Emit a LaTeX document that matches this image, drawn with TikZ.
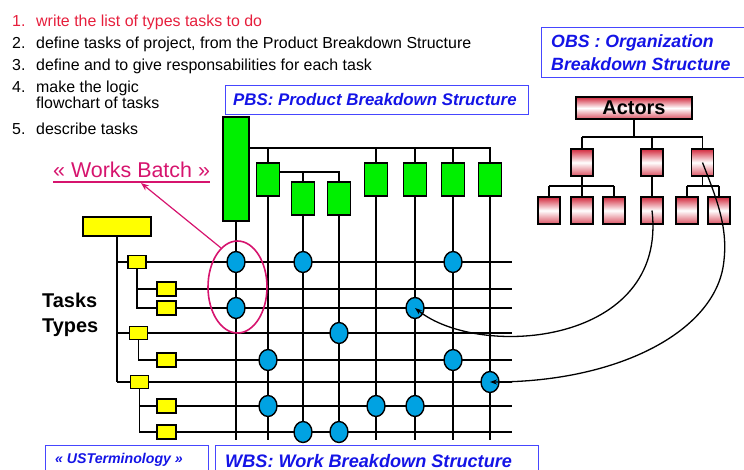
\documentclass[tikz,border=0pt]{standalone}
\usepackage{fontspec}
\setmainfont{Liberation Sans}
\usetikzlibrary{arrows.meta,shapes.geometric,calc}
\definecolor{pgreen}{RGB}{0,240,0}
\definecolor{pyellow}{RGB}{255,255,0}
\definecolor{pcyan}{RGB}{0,162,226}
\definecolor{pmag}{RGB}{214,20,110}
\definecolor{pred}{RGB}{230,30,60}
\definecolor{pblue}{RGB}{20,20,230}
\definecolor{pframe}{RGB}{70,70,255}
\definecolor{actred}{RGB}{210,40,60}
\tikzset{
 ln/.style={line width=1.6bp, black},
 gbox/.style={draw, line width=1.4bp, fill=pgreen, inner sep=0, minimum width=23bp, minimum height=33bp},
 ybox/.style={draw, line width=1.2bp, fill=pyellow, inner sep=0, minimum width=18bp, minimum height=13bp},
 ybox2/.style={ybox, minimum width=19bp, minimum height=14bp},
 wdot/.style={ellipse, draw, line width=1.4bp, fill=pcyan, inner sep=0, minimum width=18bp, minimum height=21bp},
 abox/.style={draw, line width=1.4bp, inner sep=0, minimum width=22bp, minimum height=27bp, top color=actred, bottom color=actred!80, middle color=white},
 lbox/.style={draw=pframe, line width=0.9bp, inner sep=0, anchor=north west},
 ltxt/.style={anchor=base west, inner sep=0, text=pblue},
 txt/.style={anchor=base west, inner sep=0, font=\fontsize{16}{18}\selectfont},
 curv/.style={line width=1.3bp, -{Stealth[length=7bp,width=5bp]}},
}
\begin{document}
\begin{tikzpicture}[x=1bp,y=-1bp]
\useasboundingbox (0,0) rectangle (744,470);
% --- list
\node[txt, text=pred] (n1) at (12,27) {1.};
\node[txt, text=pred] (t1) at (36,27) {write the list of types tasks to do};
\node[txt] (n2) at (12,49) {2.};
\node[txt] (t2) at (36,49) {define tasks of project, from the Product Breakdown Structure};
\node[txt] (n3) at (12,71) {3.};
\node[txt] (t3) at (36,71) {define and to give responsabilities for each task};
\node[txt] (n4) at (12,93) {4.};
\node[txt] (t4) at (36,93) {make the logic};
\node[txt] (t4b) at (36,109) {flowchart of tasks};
\node[txt] (n5) at (12,135) {5.};
\node[txt] (t5) at (36,135) {describe tasks};
% --- label boxes
\node[lbox, minimum width=303bp, minimum height=29bp] (pbs) at (225,85) {};
\node[ltxt, font=\fontsize{16.9}{18}\bfseries\itshape] (pbst) at (233,106) {PBS: Product Breakdown Structure};
\node[lbox, minimum width=203bp, minimum height=50bp] (obs) at (541,27) {};
\node[ltxt, font=\fontsize{17.8}{19}\bfseries\itshape] (obst1) at (551,48) {OBS : Organization};
\node[ltxt, font=\fontsize{17.8}{19}\bfseries\itshape] (obst2) at (551,71) {Breakdown Structure};
\node[lbox, minimum width=163bp, minimum height=30bp] (ust) at (45,445) {};
\node[ltxt, font=\fontsize{14.2}{16}\bfseries\itshape] (ustt) at (55,463) {« USTerminology »};
\node[lbox, minimum width=323bp, minimum height=30bp] (wbs) at (215,445) {};
\node[ltxt, font=\fontsize{18.2}{20}\bfseries\itshape] (wbst) at (225,467) {WBS: Work Breakdown Structure};
% --- Tasks Types
\node[anchor=base west, inner sep=0, font=\fontsize{20}{22}\bfseries] (tt1) at (42,308) {Tasks};
\node[anchor=base west, inner sep=0, font=\fontsize{20}{22}\bfseries] (tt2) at (42,333) {Types};
% --- grid coordinates
\foreach \j/\x in {1/236,2/268,3/303,4/339,5/376,6/415,7/453,8/490} \coordinate (c\j) at (\x,0);
\foreach \i/\y in {1/262,2/289,3/308,4/333,5/360,6/382,7/406,8/432} \coordinate (r\i) at (0,\y);
\coordinate (rend) at (512,0);
\coordinate (vend) at (0,440);
\coordinate (tb) at (0,148);
\coordinate (sb) at (0,172);
% --- PBS green boxes
\node[gbox, minimum width=26bp, minimum height=104bp] (gc1) at (236,169) {};
\foreach \j in {2,5,6,7,8} \node[gbox] (gc\j) at ($(c\j)+(0,179.5)$) {};
\foreach \j in {3,4} \node[gbox] (gc\j) at ($(c\j)+(0,198.5)$) {};
\draw[ln] (gc1.east |- tb) -- (gc8.north |- tb) -- (gc8.north);
\foreach \j in {2,5,6,7} \draw[ln] (gc\j.north |- tb) -- (gc\j.north);
\draw[ln] (gc2.east |- sb) -- (gc4.north |- sb) -- (gc4.north);
\draw[ln] (gc3.north |- sb) -- (gc3.north);
% --- yellow task types
\node[ybox, minimum width=68bp, minimum height=19bp] (y0) at (117,226.5) {};
\node[ybox] (yb1) at (137,262) {};
\node[ybox2] (yb2) at (166.5,289) {};
\node[ybox2] (yb3) at (166.5,308) {};
\node[ybox] (yb4) at (138.5,333) {};
\node[ybox2] (yb5) at (166.5,360) {};
\node[ybox] (yb6) at (139.5,382) {};
\node[ybox2] (yb7) at (166.5,406) {};
\node[ybox2] (yb8) at (166.5,432) {};
\draw[ln] (y0.south) -- (y0.south |- yb6);
\foreach \i in {1,4,6} \draw[ln] (y0.south |- yb\i) -- (yb\i.west);
\draw[ln] (yb1.south) |- (yb3.west);
\draw[ln] (yb1.south |- yb2) -- (yb2.west);
\draw[ln] (yb4.south) |- (yb5.west);
\draw[ln] (yb6.south) |- (yb8.west);
\draw[ln] (yb6.south |- yb7) -- (yb7.west);
% --- grid lines
\foreach \i in {1,...,8} \draw[ln] (yb\i.east) -- (yb\i.east -| rend);
\foreach \j in {1,...,8} \draw[ln] (gc\j.south) -- (gc\j.south |- vend);
% --- works dots
\foreach \r/\c in {1/1,1/3,1/7,3/1,3/6,4/4,5/2,5/7,6/8,7/2,7/5,7/6,8/3,8/4}
  \node[wdot] (d\r\c) at (c\c |- r\r) {};
% --- works batch
\node[ellipse, draw=pmag, line width=1.6bp, minimum width=59bp, minimum height=92bp, inner sep=0] (wbe) at (237.5,287) {};
\node[anchor=base west, inner sep=0, text=pmag, font=\fontsize{21.5}{24}\selectfont] (wbl) at (53,178) {« Works Batch »};
\draw[pmag, line width=1.2bp] ($(wbl.base west)+(0,4)$) -- ($(wbl.base east)+(0,4)$);
\draw[pmag, line width=1.2bp, -{Stealth[length=8bp,width=6bp]}] (wbe.113) -- ($(wbl.base west)!0.56!(wbl.base east)+(0,5)$);
% --- OBS
\node[abox, minimum width=116bp, minimum height=22bp, font=\fontsize{20}{22}\bfseries] (act) at (634,108) {Actors};
\node[abox] (a1) at (582,162.5) {};
\node[abox] (a2) at (652,162.5) {};
\node[abox] (a3) at (702.5,162.5) {};
\foreach \k/\x in {1/549,2/582,3/614,4/652,5/687,6/719} \node[abox] (b\k) at (\x,210.5) {};
\coordinate (ab) at (0,137);
\coordinate (bb) at (0,186);
\draw[ln] (act.south) -- (act.south |- ab);
\draw[ln] (a1.north |- ab) -- (a3.north |- ab);
\foreach \k in {1,2,3} \draw[ln] (a\k.north |- ab) -- (a\k.north);
\draw[ln] (a1.south) -- (a1.south |- bb);
\draw[ln] (b1.north |- bb) -- (b3.north |- bb);
\foreach \k in {1,2,3} \draw[ln] (b\k.north |- bb) -- (b\k.north);
\draw[ln] (a2.south) -- (b4.north);
\draw[ln] (a3.south) -- (a3.south |- bb);
\draw[ln] (b5.north |- bb) -- (b6.north |- bb);
\foreach \k in {5,6} \draw[ln] (b\k.north |- bb) -- (b\k.north);
% --- responsibility curves
\coordinate (cv) at (724,260);
\draw[curv] (b4.center) .. controls (668,345) and (480,360) .. (d36.center);
\draw[curv] (a3.center) .. controls (715,195) and (728,225) .. (cv) .. controls (718,330) and (620,382) .. (d68.center);
\end{tikzpicture}
\end{document}
